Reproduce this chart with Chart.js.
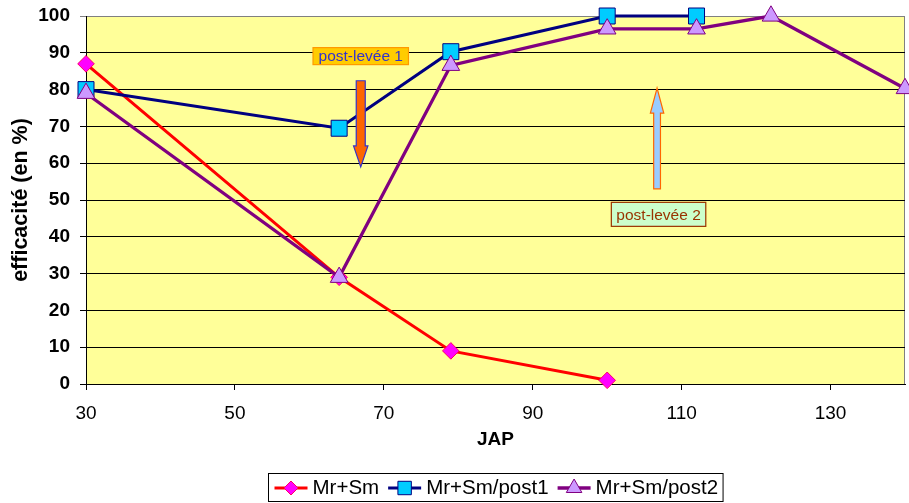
<!DOCTYPE html>
<html>
<head>
<meta charset="utf-8">
<script src="https://cdn.jsdelivr.net/npm/chart.js@4/dist/chart.umd.min.js"></script>
<style>
  html, body { margin: 0; padding: 0; background: #ffffff; }
  #wrap { width: 909px; height: 503px; }
</style>
</head>
<body>
<div id="wrap"><canvas id="chart" width="909" height="503"></canvas></div>
<script>
// Days after planting (JAP) and weed-control efficacy (%)
const xTickValues = [30, 50, 70, 90, 110, 130];

const mrSmDays  = [30, 64, 79, 100];
const mrSmEff   = [87, 29, 9, 1];

const post1Days = [30, 64, 79, 100, 112];
const post1Eff  = [80, 69.5, 90.3, 100, 100];

const post2Days = [30, 64, 79, 100, 112, 122, 140];
const post2Eff  = [79, 29, 86.6, 96.5, 96.5, 100, 80.3];

const seriesNames = ['Mr+Sm', 'Mr+Sm/post1', 'Mr+Sm/post2'];

// Treatment annotations, placed in data units (JAP, %)
const treatmentArrows = [
  { x: 66.9, from: 82.4, to: 59.0, shaftHalf: 4.5, headHalf: 7.2, headLen: 21, fill: '#FF6600', stroke: '#3333CC' },
  { x: 106.7, from: 53.0, to: 80.4, shaftHalf: 3.4, headHalf: 6.7, headLen: 25, fill: '#99CCFF', stroke: '#FF6600' }
];
const treatmentLabels = [
  { text: 'post-levée 1', x: 66.9, y: 89.1, h: 17, padX: 5.5, fill: '#FFCC00', stroke: '#FF9900', color: '#3333CC' },
  { text: 'post-levée 2', x: 106.9, y: 46.1, h: 24, padX: 5, fill: '#CCFFCC', stroke: '#993300', color: '#993300' }
];

const FONT = "'Liberation Sans', Arial, Helvetica, sans-serif";
Chart.defaults.font.family = FONT;
Chart.defaults.color = '#000000';

const toPoints = (xs, ys) => xs.map((x, i) => ({ x: x, y: ys[i] }));

function drawMarker(ctx, style, x, y, r, fill, stroke, bw) {
  ctx.beginPath();
  if (style === 'rectRot') {
    ctx.moveTo(x, y - r); ctx.lineTo(x + r, y); ctx.lineTo(x, y + r); ctx.lineTo(x - r, y);
  } else if (style === 'rect') {
    const s = r * Math.SQRT1_2;
    ctx.rect(x - s, y - s, 2 * s, 2 * s);
  } else {
    ctx.moveTo(x, y - r); ctx.lineTo(x + r * 0.866, y + r / 2); ctx.lineTo(x - r * 0.866, y + r / 2);
  }
  ctx.closePath();
  ctx.fillStyle = fill; ctx.fill();
  ctx.lineWidth = bw; ctx.strokeStyle = stroke; ctx.stroke();
}

// Yellow plot background with grey frame on top/right
const plotBackground = {
  id: 'plotBackground',
  beforeDraw(chart) {
    const { ctx, chartArea: a } = chart;
    ctx.save();
    ctx.fillStyle = '#FFFF99';
    ctx.fillRect(a.left, a.top, a.right - a.left, a.bottom - a.top);
    ctx.strokeStyle = '#808080';
    ctx.lineWidth = 1;
    ctx.beginPath();
    ctx.moveTo(a.left, a.top + 0.5);
    ctx.lineTo(a.right - 0.5, a.top + 0.5);
    ctx.lineTo(a.right - 0.5, a.bottom);
    ctx.stroke();
    ctx.restore();
  }
};

// Arrows and labelled boxes marking the post-emergence treatments
const treatments = {
  id: 'treatments',
  afterDatasetsDraw(chart) {
    const { ctx, scales: { x: sx, y: sy } } = chart;
    ctx.save();
    treatmentArrows.forEach(a => {
      const px = sx.getPixelForValue(a.x);
      const y0 = sy.getPixelForValue(a.from);
      const y1 = sy.getPixelForValue(a.to);
      const dir = Math.sign(y1 - y0);
      const hb = y1 - dir * a.headLen;
      ctx.beginPath();
      ctx.moveTo(px - a.shaftHalf, y0);
      ctx.lineTo(px - a.shaftHalf, hb);
      ctx.lineTo(px - a.headHalf, hb);
      ctx.lineTo(px, y1);
      ctx.lineTo(px + a.headHalf, hb);
      ctx.lineTo(px + a.shaftHalf, hb);
      ctx.lineTo(px + a.shaftHalf, y0);
      ctx.closePath();
      ctx.fillStyle = a.fill; ctx.fill();
      ctx.lineWidth = 1.2; ctx.strokeStyle = a.stroke; ctx.stroke();
    });
    ctx.font = '15.5px ' + FONT;
    ctx.textAlign = 'center';
    ctx.textBaseline = 'middle';
    treatmentLabels.forEach(b => {
      const px = sx.getPixelForValue(b.x);
      const py = sy.getPixelForValue(b.y);
      const w = ctx.measureText(b.text).width + 2 * b.padX;
      ctx.fillStyle = b.fill;
      ctx.fillRect(px - w / 2, py - b.h / 2, w, b.h);
      ctx.lineWidth = 1.2; ctx.strokeStyle = b.stroke;
      ctx.strokeRect(px - w / 2, py - b.h / 2, w, b.h);
      ctx.fillStyle = b.color;
      ctx.fillText(b.text, px, py + 1);
    });
    ctx.restore();
  }
};

// Boxed legend below the axis: line sample with marker, then series name
const boxedLegend = {
  id: 'boxedLegend',
  afterDraw(chart) {
    const { ctx, chartArea: a } = chart;
    const sets = chart.data.datasets;
    const lineLen = 33, gapText = 5, gapItem = 9, padL = 6, padR = 5;
    const top = 473, bottom = 502, cy = 488;
    ctx.save();
    ctx.font = '20.5px ' + FONT;
    const widths = sets.map(d => ctx.measureText(d.label).width);
    let total = padL + padR;
    widths.forEach((w, i) => { total += lineLen + gapText + w + (i < widths.length - 1 ? gapItem : 0); });
    const left = Math.round((a.left + a.right) / 2 - total / 2) + 0.5;
    ctx.strokeStyle = '#000000'; ctx.lineWidth = 1;
    ctx.strokeRect(left, top + 0.5, total, bottom - top - 1);
    let x = left + padL;
    const legendR = { rectRot: 7, rect: 9.5, triangle: 9 };
    sets.forEach((d, i) => {
      ctx.beginPath();
      ctx.moveTo(x, cy); ctx.lineTo(x + lineLen, cy);
      ctx.strokeStyle = d.borderColor; ctx.lineWidth = d.borderWidth; ctx.stroke();
      drawMarker(ctx, d.pointStyle, x + lineLen / 2, cy, legendR[d.pointStyle],
                 d.pointBackgroundColor, d.pointBorderColor, 1);
      x += lineLen + gapText;
      ctx.fillStyle = '#000000';
      ctx.textAlign = 'left'; ctx.textBaseline = 'middle';
      ctx.fillText(d.label, x, cy);
      x += widths[i] + gapItem;
    });
    ctx.restore();
  }
};

new Chart(document.getElementById('chart'), {
  type: 'line',
  data: {
    datasets: [
      {
        label: seriesNames[0], data: toPoints(mrSmDays, mrSmEff), order: 2,
        borderColor: '#FF0000', borderWidth: 3,
        pointStyle: 'rectRot', pointRadius: 8.3, pointHoverRadius: 8.3,
        pointBackgroundColor: '#FF00FF', pointBorderColor: '#FF0066', pointBorderWidth: 1,
        clip: false
      },
      {
        label: seriesNames[1], data: toPoints(post1Days, post1Eff), order: 1,
        borderColor: '#000080', borderWidth: 3,
        pointStyle: 'rect', pointRadius: 11.3, pointHoverRadius: 11.3,
        pointBackgroundColor: '#00CCFF', pointBorderColor: '#000080', pointBorderWidth: 1,
        clip: false
      },
      {
        label: seriesNames[2], data: toPoints(post2Days, post2Eff), order: 0,
        borderColor: '#800080', borderWidth: 3.3,
        pointStyle: 'triangle', pointRadius: 10.2, pointHoverRadius: 10.2,
        pointBackgroundColor: '#CC99FF', pointBorderColor: '#800080', pointBorderWidth: 1,
        clip: false
      }
    ]
  },
  options: {
    responsive: false,
    animation: false,
    devicePixelRatio: 1,
    layout: { padding: { top: 16, right: 4, left: 0, bottom: 0 }, autoPadding: false },
    plugins: { legend: { display: false }, tooltip: { enabled: false } },
    elements: { line: { tension: 0 } },
    scales: {
      x: {
        type: 'linear', min: 30, max: 140,
        afterBuildTicks: s => { s.ticks = xTickValues.map(v => ({ value: v })); },
        afterFit: s => { s.height = 119; s.paddingLeft = 0; s.paddingRight = 0; },
        grid: { drawOnChartArea: false, drawTicks: true, tickLength: 6, color: '#000000' },
        border: { color: '#000000', width: 1 },
        ticks: { font: { size: 19 }, padding: 12, maxRotation: 0, autoSkip: false, color: '#000000' },
        title: { display: true, text: 'JAP', font: { size: 19, weight: 'bold' }, padding: { top: 0, bottom: 51.6 } }
      },
      y: {
        min: 0, max: 100,
        afterFit: s => { s.width = 86; s.paddingTop = 0; s.paddingBottom = 0; },
        ticks: { stepSize: 10, font: { size: 19, weight: 'bold' }, padding: 10, color: '#000000' },
        grid: {
          color: c => (c.tick && c.tick.value === 100 ? '#808080' : '#000000'),
          tickLength: 6, drawTicks: true, lineWidth: 1
        },
        border: { color: '#000000', width: 1 },
        title: { display: true, text: 'efficacité (en %)', font: { size: 21.5, weight: 'bold' }, padding: { top: 8.1, bottom: 0 } }
      }
    }
  },
  plugins: [plotBackground, treatments, boxedLegend]
});
</script>
</body>
</html>
